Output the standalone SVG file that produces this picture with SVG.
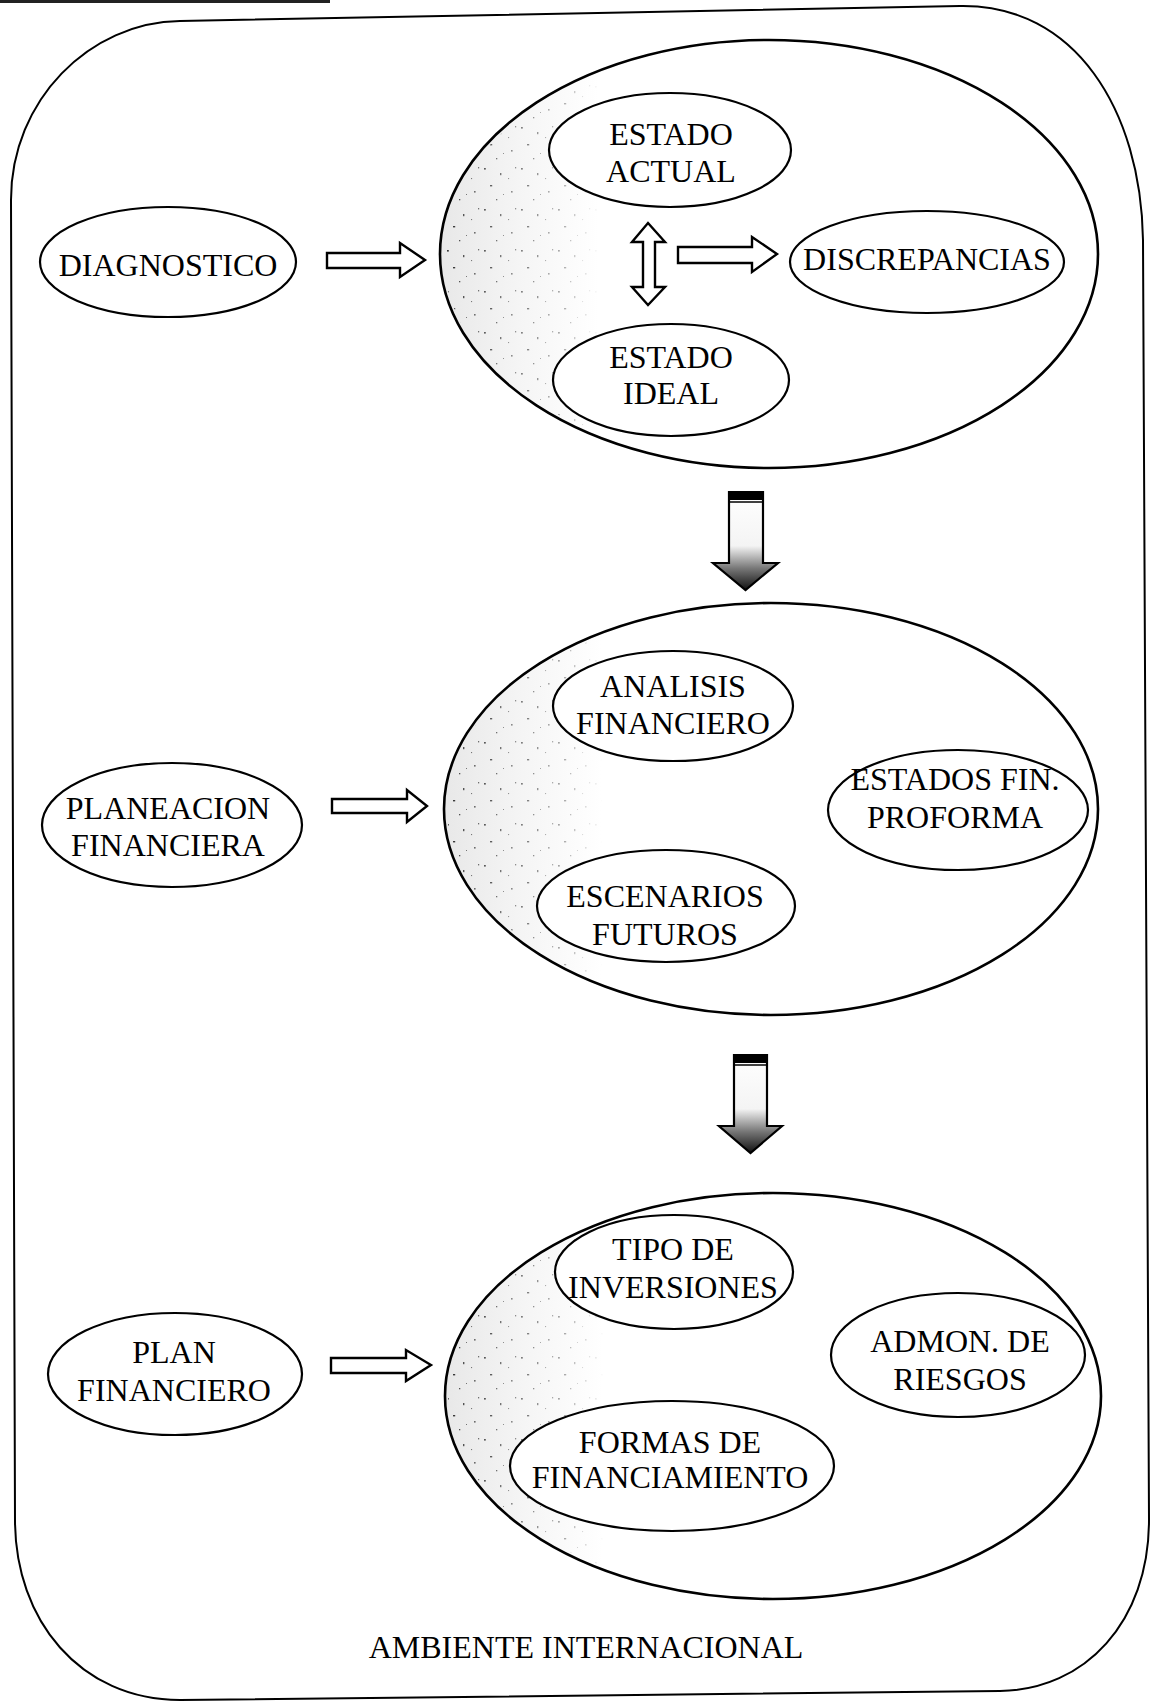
<svg xmlns="http://www.w3.org/2000/svg" width="1151" height="1703" viewBox="0 0 1151 1703">
  <defs>
    <style>
      .frame { fill: none; stroke: #000; stroke-width: 2; }
      .big { fill: url(#shade); stroke: #000; stroke-width: 2.6; }
      .speck { fill: url(#dots); stroke: none; mask: url(#fade); }
      .node ellipse { fill: #fff; stroke: #000; stroke-width: 2.2; }
      .lbl { font-family: "Liberation Serif", "Times New Roman", serif; font-size: 32px; fill: #000; text-anchor: middle; }
      .harrow { fill: #fff; stroke: #000; stroke-width: 2.4; stroke-linejoin: miter; }
      .varrow { stroke: #000; stroke-width: 2.2; }
    </style>
    <!-- faint shading on the left side of each group ellipse -->
    <linearGradient id="shade" x1="0" y1="0" x2="1" y2="0">
      <stop offset="0" stop-color="#e8e8e8"/>
      <stop offset="0.12" stop-color="#f5f5f5"/>
      <stop offset="0.24" stop-color="#ffffff"/>
      <stop offset="1" stop-color="#ffffff"/>
    </linearGradient>
    <linearGradient id="fadeGrad" x1="0" y1="0" x2="1" y2="0">
      <stop offset="0" stop-color="#fff"/>
      <stop offset="0.12" stop-color="#fff" stop-opacity="0.6"/>
      <stop offset="0.24" stop-color="#000"/>
      <stop offset="1" stop-color="#000"/>
    </linearGradient>
    <mask id="fade" maskContentUnits="objectBoundingBox">
      <rect width="1" height="1" fill="url(#fadeGrad)"/>
    </mask>
    <!-- stipple texture -->
    <pattern id="dots" width="37" height="41" patternUnits="userSpaceOnUse">
      <rect x="3" y="4" width="1.8" height="1.6" fill="#333"/>
      <rect x="19" y="9" width="1.4" height="2.2" fill="#444"/>
      <rect x="9" y="21" width="2.2" height="1.4" fill="#333"/>
      <rect x="30" y="27" width="1.6" height="1.6" fill="#555"/>
      <rect x="15" y="35" width="1.3" height="1.3" fill="#444"/>
      <rect x="27" y="14" width="1.1" height="1.1" fill="#666"/>
      <rect x="34" y="3" width="1.2" height="1.4" fill="#555"/>
      <rect x="22" y="30" width="1" height="1" fill="#666"/>
    </pattern>
    <!-- dark shading toward the tip of the downward arrows -->
    <linearGradient id="dark" x1="0" y1="0" x2="0" y2="1">
      <stop offset="0" stop-color="#ffffff"/>
      <stop offset="0.55" stop-color="#f4f4f4"/>
      <stop offset="0.78" stop-color="#777"/>
      <stop offset="1" stop-color="#111"/>
    </linearGradient>
  </defs>

  <rect width="1151" height="1703" fill="#fff"/>
  <!-- dark scan edge along the top-left -->
  <rect x="0" y="0" width="330" height="3" fill="#222"/>

  <!-- outer frame: AMBIENTE INTERNACIONAL -->
  <g id="ambiente">
    <path class="frame" d="M180,21 L960,6 C1075,4 1141,110 1143,240 L1149,1520 C1149,1622 1085,1690 1000,1691 L180,1700 C80,1700 15,1620 15,1520 L11,200 C11,100 90,22 180,21 Z"/>
    <text class="lbl" x="586" y="1658">AMBIENTE INTERNACIONAL</text>
  </g>

  <!-- group ellipses -->
  <g id="grupo-diagnostico">
    <ellipse class="big" cx="769" cy="254" rx="329" ry="214"/>
    <ellipse class="speck" cx="769" cy="254" rx="326" ry="211"/>
  </g>
  <g id="grupo-planeacion">
    <ellipse class="big" cx="771" cy="809" rx="327" ry="206"/>
    <ellipse class="speck" cx="771" cy="809" rx="324" ry="203"/>
  </g>
  <g id="grupo-plan">
    <ellipse class="big" cx="773" cy="1396" rx="328" ry="203"/>
    <ellipse class="speck" cx="773" cy="1396" rx="325" ry="200"/>
  </g>

  <!-- stage nodes -->
  <g id="diagnostico" class="node">
    <ellipse cx="168" cy="262" rx="128" ry="55"/>
    <text class="lbl" x="168" y="276">DIAGNOSTICO</text>
  </g>
  <g id="planeacion-financiera" class="node">
    <ellipse cx="172" cy="825" rx="130" ry="62"/>
    <text class="lbl" x="168" y="819">PLANEACION</text>
    <text class="lbl" x="168" y="856">FINANCIERA</text>
  </g>
  <g id="plan-financiero" class="node">
    <ellipse cx="175" cy="1374" rx="127" ry="61"/>
    <text class="lbl" x="174" y="1363">PLAN</text>
    <text class="lbl" x="174" y="1401">FINANCIERO</text>
  </g>

  <!-- inner nodes, group 1 -->
  <g id="estado-actual" class="node">
    <ellipse cx="670" cy="150" rx="121" ry="57"/>
    <text class="lbl" x="671" y="145">ESTADO</text>
    <text class="lbl" x="671" y="182">ACTUAL</text>
  </g>
  <g id="estado-ideal" class="node">
    <ellipse cx="671" cy="380" rx="118" ry="56"/>
    <text class="lbl" x="671" y="368">ESTADO</text>
    <text class="lbl" x="671" y="404">IDEAL</text>
  </g>
  <g id="discrepancias" class="node">
    <ellipse cx="927" cy="262" rx="137" ry="51"/>
    <text class="lbl" x="927" y="270">DISCREPANCIAS</text>
  </g>

  <!-- inner nodes, group 2 -->
  <g id="analisis-financiero" class="node">
    <ellipse cx="673" cy="706" rx="120" ry="55"/>
    <text class="lbl" x="673" y="697">ANALISIS</text>
    <text class="lbl" x="673" y="734">FINANCIERO</text>
  </g>
  <g id="estados-fin-proforma" class="node">
    <ellipse cx="958" cy="810" rx="130" ry="60"/>
    <text class="lbl" x="955" y="790">ESTADOS FIN.</text>
    <text class="lbl" x="955" y="828">PROFORMA</text>
  </g>
  <g id="escenarios-futuros" class="node">
    <ellipse cx="666" cy="906" rx="129" ry="56"/>
    <text class="lbl" x="665" y="907">ESCENARIOS</text>
    <text class="lbl" x="665" y="945">FUTUROS</text>
  </g>

  <!-- inner nodes, group 3 -->
  <g id="tipo-de-inversiones" class="node">
    <ellipse cx="674" cy="1272" rx="119" ry="57"/>
    <text class="lbl" x="673" y="1260">TIPO DE</text>
    <text class="lbl" x="673" y="1298">INVERSIONES</text>
  </g>
  <g id="admon-de-riesgos" class="node">
    <ellipse cx="958" cy="1355" rx="127" ry="62"/>
    <text class="lbl" x="960" y="1352">ADMON. DE</text>
    <text class="lbl" x="960" y="1390">RIESGOS</text>
  </g>
  <g id="formas-de-financiamiento" class="node">
    <ellipse cx="672" cy="1466" rx="162" ry="65"/>
    <text class="lbl" x="670" y="1453">FORMAS DE</text>
    <text class="lbl" x="670" y="1488">FINANCIAMIENTO</text>
  </g>

  <!-- connectors -->
  <g id="connectors">
    <!-- hollow block arrows -->
    <polygon class="harrow" points="327,253 400,253 400,243 425,260 400,277 400,268 327,268"/>
    <polygon class="harrow" points="678,247 752,247 752,237 777,254 752,272 752,263 678,263"/>
    <polygon class="harrow" points="648,223 665,242 655,242 655,287 665,287 648,305 632,287 643,287 643,242 632,242"/>
    <polygon class="harrow" points="332,799 407,799 407,790 427,806 407,822 407,813 332,813"/>
    <polygon class="harrow" points="331,1358 406,1358 406,1350 431,1365 406,1381 406,1373 331,1373"/>

    <!-- shaded downward arrows between groups -->
    <g>
      <polygon class="varrow" fill="url(#dark)" points="729,492 763,492 763,563 778,563 745.5,590 713,563 729,563"/>
      <rect x="729" y="492" width="34" height="8" fill="#000"/>
      <line x1="730" y1="502" x2="762" y2="502" stroke="#000" stroke-width="1.5"/>
    </g>
    <g>
      <polygon class="varrow" fill="url(#dark)" points="734,1055 767,1055 767,1126 782,1126 750.5,1153 719,1126 734,1126"/>
      <rect x="734" y="1055" width="33" height="8" fill="#000"/>
      <line x1="735" y1="1065" x2="766" y2="1065" stroke="#000" stroke-width="1.5"/>
    </g>
  </g>
</svg>
